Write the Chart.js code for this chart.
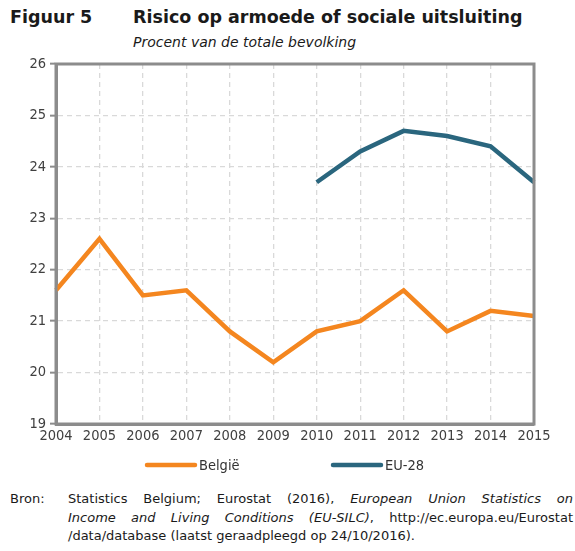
<!DOCTYPE html>
<html>
<head>
<meta charset="utf-8">
<script src="https://cdn.jsdelivr.net/npm/chart.js@4/dist/chart.umd.min.js"></script>
<style>
  html, body { margin: 0; padding: 0; background: #fff; }
  body { width: 575px; height: 551px; position: relative; overflow: hidden; font-family: "DejaVu Sans Condensed", "DejaVu Sans", sans-serif; color: #1a1a1a; }
  #c { position: absolute; left: 0; top: 0; }
  .t { position: absolute; white-space: nowrap; }
  #fig { left: 10px; top: 7px; font-family: "DejaVu Sans", sans-serif; font-weight: bold; font-size: 17.5px; }
  #title { left: 133px; top: 7px; font-family: "DejaVu Sans", sans-serif; font-weight: bold; font-size: 17.5px; }
  #sub { left: 133px; top: 34px; font-family: "DejaVu Sans", sans-serif; font-style: italic; font-size: 14px; }
  #bron { left: 10px; top: 490px; font-family: "DejaVu Sans", sans-serif; font-size: 13px; line-height: 18.5px; }
  #src { position: absolute; left: 68px; top: 490px; width: 505px; font-family: "DejaVu Sans", sans-serif; font-size: 13px; line-height: 18.5px; }
  #src div { white-space: nowrap; }
  #src .j { text-align: justify; text-align-last: justify; white-space: normal; }
</style>
</head>
<body>
<div class="t" id="fig">Figuur 5</div>
<div class="t" id="title">Risico op armoede of sociale uitsluiting</div>
<div class="t" id="sub">Procent van de totale bevolking</div>
<canvas id="c" width="575" height="482"></canvas>
<div class="t" id="bron">Bron:</div>
<div id="src">
  <div class="j">Statistics Belgium; Eurostat (2016), <i>European Union Statistics on</i></div>
  <div class="j"><i>Income and Living Conditions (EU-SILC)</i>, http://ec.europa.eu/Eurostat</div>
  <div>/data/database (laatst geraadpleegd op 24/10/2016).</div>
</div>
<script>
const years = ['2004','2005','2006','2007','2008','2009','2010','2011','2012','2013','2014','2015'];
const belgie = [21.6, 22.6, 21.5, 21.6, 20.8, 20.2, 20.8, 21.0, 21.6, 20.8, 21.2, 21.1];
const eu28 = [null, null, null, null, null, null, 23.7, 24.3, 24.7, 24.6, 24.4, 23.7];
const seriesNames = ['België', 'EU-28'];
const yMin = 19, yMax = 26, yStep = 1;

const FONT = '"DejaVu Sans Condensed", "DejaVu Sans", sans-serif';
const AXIS = '#8c8c8c';

const frame = {
  id: 'frame',
  afterDatasetsDraw(chart) {
    const {ctx, chartArea: a} = chart;
    ctx.save();
    ctx.strokeStyle = AXIS;
    ctx.lineWidth = 3;
    ctx.strokeRect(a.left, a.top, a.right - a.left, a.bottom - a.top);
    ctx.restore();
  }
};

const customLegend = {
  id: 'customLegend',
  afterDraw(chart) {
    const {ctx} = chart;
    const y = 465;
    const starts = [147, 333];
    ctx.save();
    ctx.font = '14.5px ' + FONT;
    ctx.textBaseline = 'middle';
    chart.data.datasets.forEach((ds, i) => {
      const x = starts[i];
      ctx.strokeStyle = ds.borderColor;
      ctx.lineWidth = 4.5;
      ctx.lineCap = 'round';
      ctx.beginPath();
      ctx.moveTo(x, y);
      ctx.lineTo(x + 48, y);
      ctx.stroke();
      ctx.fillStyle = '#333';
      ctx.fillText(ds.label, x + 52, y + 1);
    });
    ctx.restore();
  }
};

new Chart(document.getElementById('c'), {
  type: 'line',
  data: {
    labels: years,
    datasets: [
      { label: seriesNames[0], data: belgie, borderColor: '#F4861F', borderWidth: 4.5, pointRadius: 0, tension: 0, spanGaps: false },
      { label: seriesNames[1], data: eu28, borderColor: '#2A667E', borderWidth: 4.5, pointRadius: 0, tension: 0, spanGaps: false }
    ]
  },
  options: {
    responsive: false,
    animation: false,
    layout: { padding: { left: 0, top: 64, right: 41, bottom: 36 } },
    plugins: { legend: { display: false }, tooltip: { enabled: false }, title: { display: false } },
    scales: {
      x: {
        offset: false,
        grid: { color: '#d9d9d9', lineWidth: 1.3, drawTicks: false },
        border: { display: true, color: AXIS, width: 3, dash: [5, 4] },
        ticks: { color: '#404040', font: { family: FONT, size: 14.5 }, padding: 4, maxRotation: 0, autoSkip: false },
        afterFit(s) { s.height = 22; }
      },
      y: {
        min: yMin, max: yMax,
        grid: { color: '#d9d9d9', lineWidth: 1.3, drawTicks: true, tickLength: 6, tickColor: AXIS, tickWidth: 2, tickBorderDash: [] },
        border: { display: true, color: AXIS, width: 3, dash: [5, 4] },
        ticks: { stepSize: yStep, color: '#404040', font: { family: FONT, size: 14.5 }, padding: 4 },
        afterFit(s) { s.width = 56; }
      }
    }
  },
  plugins: [frame, customLegend]
});
</script>
</body>
</html>
